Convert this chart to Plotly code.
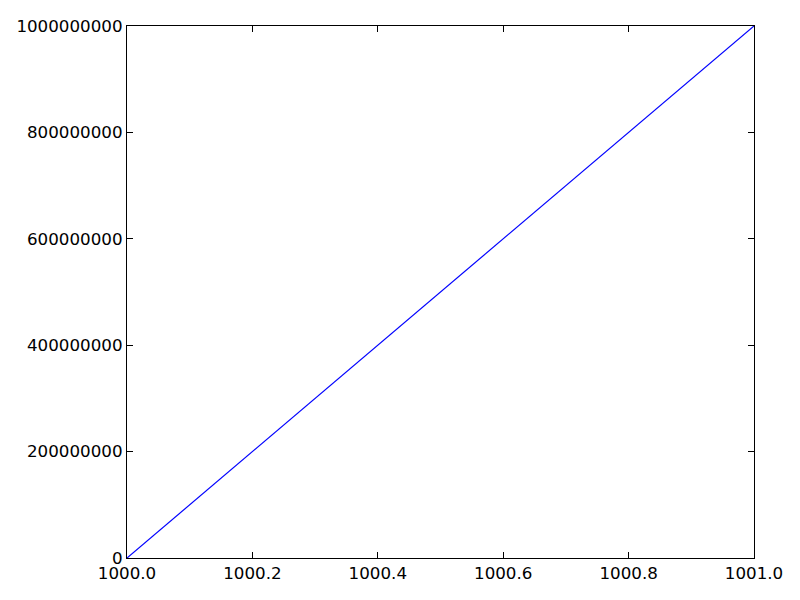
import plotly.graph_objects as go

x_vals = [1000.0, 1001.0]
y_vals = [0, 1000000000]
x_ticks = [1000.0, 1000.2, 1000.4, 1000.6, 1000.8, 1001.0]
x_tick_labels = ["1000.0", "1000.2", "1000.4", "1000.6", "1000.8", "1001.0"]
y_ticks = [0, 200000000, 400000000, 600000000, 800000000, 1000000000]
y_tick_labels = ["0", "200000000", "400000000", "600000000", "800000000", "1000000000"]

fig = go.Figure(go.Scatter(x=x_vals, y=y_vals, mode="lines",
                           line=dict(color="#0000ff", width=1.2)))

axis_common = dict(showgrid=False, zeroline=False, showline=True, linecolor="black",
                   linewidth=1.2, mirror="ticks", ticks="inside", ticklen=6,
                   tickcolor="black", tickwidth=1, automargin=False,
                   tickfont=dict(family="DejaVu Sans", size=16.7, color="black"))

fig.update_xaxes(range=[1000.0, 1001.0], tickvals=x_ticks, ticktext=x_tick_labels, **axis_common)
fig.update_yaxes(range=[0, 1000000000], tickvals=y_ticks, ticktext=y_tick_labels, **axis_common)

fig.update_layout(width=800, height=600, margin=dict(l=119, r=54, t=18, b=50),
                  plot_bgcolor="white", paper_bgcolor="white", showlegend=False)

fig.write_html("out.html")
